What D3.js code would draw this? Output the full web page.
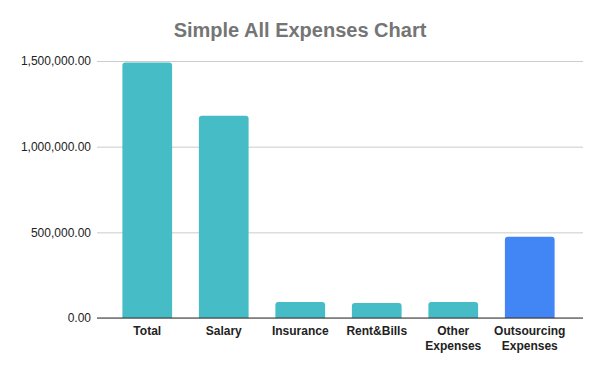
<!DOCTYPE html>
<html lang="en">
<head>
  <meta charset="UTF-8">
  <title>Simple All Expenses Chart</title>
  <style>
    body { margin: 0; background: #fff; }
    svg { font-family: Arial, "Liberation Sans", sans-serif; }
  </style>
  <script type="text/javascript" src="https://d3js.org/d3.v7.min.js"></script>
</head>
<body>
<script type="text/javascript">

  var categories = ["Total", "Salary", "Insurance", "Rent&Bills", "Other Expenses", "Outsourcing Expenses"];
  var values = [1491000, 1181000, 93500, 87500, 93500, 474000];
  var barColors = ["#46bdc6", "#46bdc6", "#46bdc6", "#46bdc6", "#46bdc6", "#4285f4"];
  var yTicks = [0, 500000, 1000000, 1500000];

  var width = 600, height = 371;
  var plotLeft = 97, plotRight = 583, plotTop = 61, plotBottom = 318;

  var svg = d3.select("body")
    .append("svg")
    .attr("width", width)
    .attr("height", height);

  svg.append("rect")
    .attr("width", width)
    .attr("height", height)
    .attr("fill", "#fff");

  svg.append("text")
    .attr("x", 300)
    .attr("y", 37)
    .attr("text-anchor", "middle")
    .attr("font-size", 20)
    .attr("font-weight", "bold")
    .attr("fill", "#757575")
    .text("Simple All Expenses Chart");

  var y = d3.scaleLinear().domain([0, 1500000]).range([plotBottom, plotTop]);
  var x = d3.scaleBand().domain(categories).range([109, 568])
    .paddingInner(0.35).paddingOuter(0.175);

  // gridlines + y labels
  var yAxis = d3.axisLeft(y)
    .tickValues(yTicks)
    .tickSize(-(plotRight - plotLeft))
    .tickPadding(6)
    .tickFormat(d3.format(",.2f"));

  var gy = svg.append("g")
    .attr("transform", "translate(" + plotLeft + ",0)")
    .call(yAxis);
  gy.select(".domain").remove();
  gy.selectAll(".tick line").attr("stroke", "#cccccc");
  gy.selectAll(".tick text")
    .attr("font-size", 12)
    .attr("fill", "#222")
    .attr("font-family", "Arial, 'Liberation Sans', sans-serif");

  // bars with rounded tops
  function barPath(d, i) {
    var x0 = x(categories[i]), w = x.bandwidth();
    var y0 = y(d), y1 = y(0), r = Math.min(3, (y1 - y0));
    return "M" + x0 + "," + y1 +
      "V" + (y0 + r) +
      "Q" + x0 + "," + y0 + " " + (x0 + r) + "," + y0 +
      "H" + (x0 + w - r) +
      "Q" + (x0 + w) + "," + y0 + " " + (x0 + w) + "," + (y0 + r) +
      "V" + y1 + "Z";
  }

  svg.append("g").selectAll("path")
    .data(values)
    .enter()
    .append("path")
    .attr("d", barPath)
    .attr("fill", function(d, i) { return barColors[i]; });

  // baseline
  svg.append("line")
    .attr("x1", plotLeft).attr("x2", plotRight)
    .attr("y1", y(0)).attr("y2", y(0))
    .attr("stroke", "#333")
    .attr("stroke-width", 1);

  // x labels
  var labels = svg.append("g").selectAll("text")
    .data(categories)
    .enter()
    .append("text")
    .attr("text-anchor", "middle")
    .attr("font-size", 12)
    .attr("font-weight", "bold")
    .attr("fill", "#222")
    .attr("x", function(d) { return x(d) + x.bandwidth() / 2; })
    .attr("y", 335);

  labels.each(function(d) {
    var words = d.split(" ");
    var t = d3.select(this);
    words.forEach(function(w, k) {
      t.append("tspan")
        .attr("x", x(d) + x.bandwidth() / 2)
        .attr("dy", k === 0 ? 0 : 15)
        .text(w);
    });
  });

</script>
</body>
</html>
